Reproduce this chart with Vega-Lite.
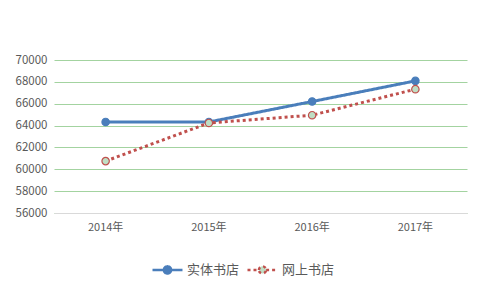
{
  "$schema": "https://vega.github.io/schema/vega-lite/v6.json",
  "width": 413,
  "height": 153,
  "autosize": {"type": "none"},
  "padding": {"left": 54, "top": 60, "right": 19, "bottom": 71},
  "background": "white",
  "config": {
    "view": {"stroke": null},
    "font": "Noto Sans CJK SC",
    "legend": {
      "orient": "none",
      "legendX": 97,
      "legendY": 193,
      "direction": "horizontal",
      "title": null,
      "symbolType": "M-1,0H-0.24M0.24,0H1M-0.24,0A0.24,0.24,0,1,1,0.24,0A0.24,0.24,0,1,1,-0.24,0",
      "symbolSize": 900,
      "symbolStrokeWidth": 2.5,
      "labelFontSize": 13,
      "labelColor": "#595959",
      "labelOffset": 3,
      "columnPadding": 2
    }
  },
  "data": {
    "values": [
      {"year": "2014年", "series": "实体书店", "value": 64330},
      {"year": "2015年", "series": "实体书店", "value": 64330},
      {"year": "2016年", "series": "实体书店", "value": 66200},
      {"year": "2017年", "series": "实体书店", "value": 68090},
      {"year": "2014年", "series": "网上书店", "value": 60750},
      {"year": "2015年", "series": "网上书店", "value": 64240},
      {"year": "2016年", "series": "网上书店", "value": 64950},
      {"year": "2017年", "series": "网上书店", "value": 67330}
    ]
  },
  "encoding": {
    "x": {
      "field": "year",
      "type": "ordinal",
      "title": null,
      "scale": {"type": "band", "paddingInner": 0, "paddingOuter": 0},
      "axis": {
        "labelAngle": 0,
        "ticks": false,
        "domainColor": "#d9d9d9",
        "domainWidth": 1,
        "labelColor": "#595959",
        "labelFontSize": 11,
        "labelPadding": 8,
        "grid": false
      }
    },
    "y": {
      "field": "value",
      "type": "quantitative",
      "title": null,
      "scale": {"domain": [56000, 70000], "nice": false, "zero": false},
      "axis": {
        "values": [56000, 58000, 60000, 62000, 64000, 66000, 68000, 70000],
        "format": "d",
        "ticks": false,
        "domain": false,
        "labelColor": "#595959",
        "labelFontSize": 11.5,
        "labelPadding": 7,
        "gridColor": "#a3d3a0",
        "gridWidth": 1
      }
    }
  },
  "layer": [
    {
      "mark": {"type": "line", "strokeWidth": 3, "strokeCap": "butt"},
      "encoding": {
        "color": {
          "field": "series",
          "type": "nominal",
          "scale": {"domain": ["实体书店", "网上书店"], "range": ["#4a7ebb", "#c0504d"]}
        },
        "strokeDash": {
          "field": "series",
          "type": "nominal",
          "scale": {"domain": ["实体书店", "网上书店"], "range": [[1, 0], [3, 3]]}
        }
      }
    },
    {
      "mark": {"type": "point", "filled": true, "size": 55, "strokeWidth": 1.2, "opacity": 1},
      "encoding": {
        "stroke": {
          "field": "series",
          "type": "nominal",
          "scale": {"domain": ["实体书店", "网上书店"], "range": ["#4a7ebb", "#c0504d"]}
        },
        "fill": {
          "field": "series",
          "type": "nominal",
          "scale": {"domain": ["实体书店", "网上书店"], "range": ["#4a7ebb", "#bfdec4"]}
        }
      }
    }
  ]
}
